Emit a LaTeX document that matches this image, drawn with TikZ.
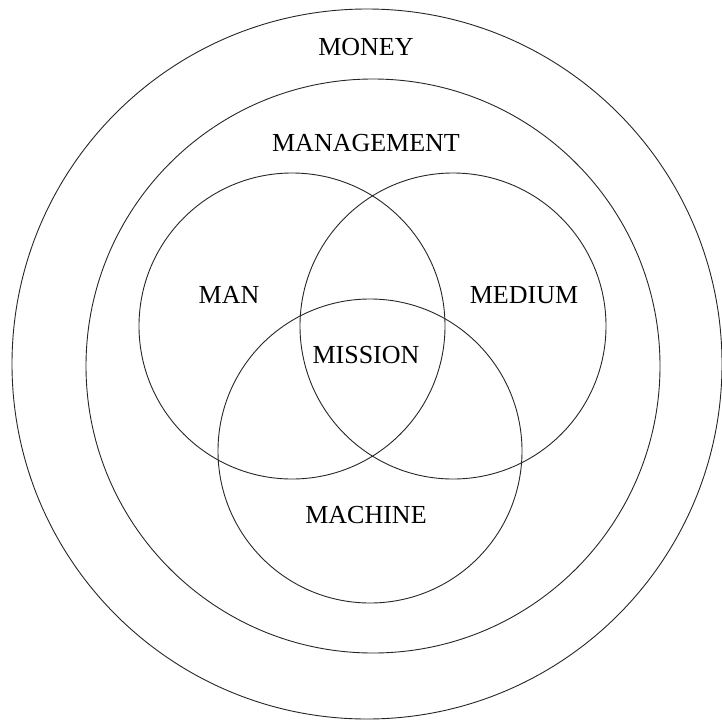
\documentclass[tikz,border=0pt]{standalone}
\usepackage{fontspec}
\setmainfont{Liberation Serif}
\usetikzlibrary{positioning}

\begin{document}
\begin{tikzpicture}[
  x=1pt,y=-1pt,
  font=\fontsize{26}{30}\selectfont,
  ring/.style={circle,draw=black!85,line width=0.9pt,inner sep=0},
  lbl/.style={inner sep=0,anchor=center},
]
\useasboundingbox (0,0) rectangle (722,720);
% outer rings
\node[ring,minimum size=710pt] (money) at (367,364) {};
\node[ring,minimum size=574pt] (mgmt) at (373,366) {};
% three overlapping circles
\node[ring,minimum size=306pt] (man) at (292,326) {};
\node[ring,minimum size=306pt] (medium) at (453,326) {};
\node[ring,minimum size=304pt] (machine) at (370,451) {};
% labels
\node[lbl] (tmoney) at (366,47) {MONEY};
\node[lbl] (tmgmt) at (366,143) {MANAGEMENT};
\node[lbl] (tman) at (229,295) {MAN};
\node[lbl] (tmedium) at (524,295) {MEDIUM};
\node[lbl] (tmission) at (366,355) {MISSION};
\node[lbl] (tmachine) at (366,515) {MACHINE};
\end{tikzpicture}
\end{document}
